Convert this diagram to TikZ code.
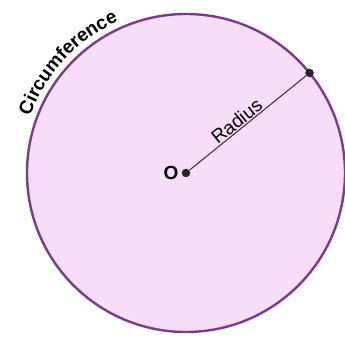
\documentclass[tikz,border=0pt]{standalone}
\usepackage{fontspec}
\setmainfont{Liberation Sans}
\usepackage{xcolor}
\usetikzlibrary{calc,decorations.text}

\definecolor{ringline}{HTML}{7A3C8A}
\definecolor{ringfill}{HTML}{F6DDF8}
\definecolor{spoke}{HTML}{3A2640}

\begin{document}
\begin{tikzpicture}[
    x=1pt, y=1pt,
    ring/.style={draw=ringline, fill=ringfill, line width=2.4pt},
    dot/.style={circle, fill=black!85, inner sep=0pt, minimum size=8.5pt},
    radline/.style={draw=spoke, line width=1pt},
    lbl/.style={font=\fontsize{19}{22}\selectfont, inner sep=1pt},
    oname/.style={font=\fontsize{19}{22}\selectfont\bfseries, inner sep=1pt}
]
\useasboundingbox (0,0) rectangle (345,339);
\coordinate (c) at (186,166);
\draw[ring] (c) circle[radius=159pt];
\node[dot] (ctr) at (c) {};
\node[dot] (rim) at ($(c)+(39:159pt)$) {};
\draw[radline] (ctr) -- node[lbl, sloped, above, pos=0.45] {Radius} (rim);
\node[oname, left=2pt] (olbl) at (ctr.west) {O};
% text round the rim
\path[decorate, decoration={text along path, text align=center,
    text={|\fontsize{19}{22}\selectfont\bfseries|Circumference}}]
    ($(c)+(162:166pt)$) arc[start angle=162, end angle=112, radius=166pt];
\end{tikzpicture}
\end{document}
